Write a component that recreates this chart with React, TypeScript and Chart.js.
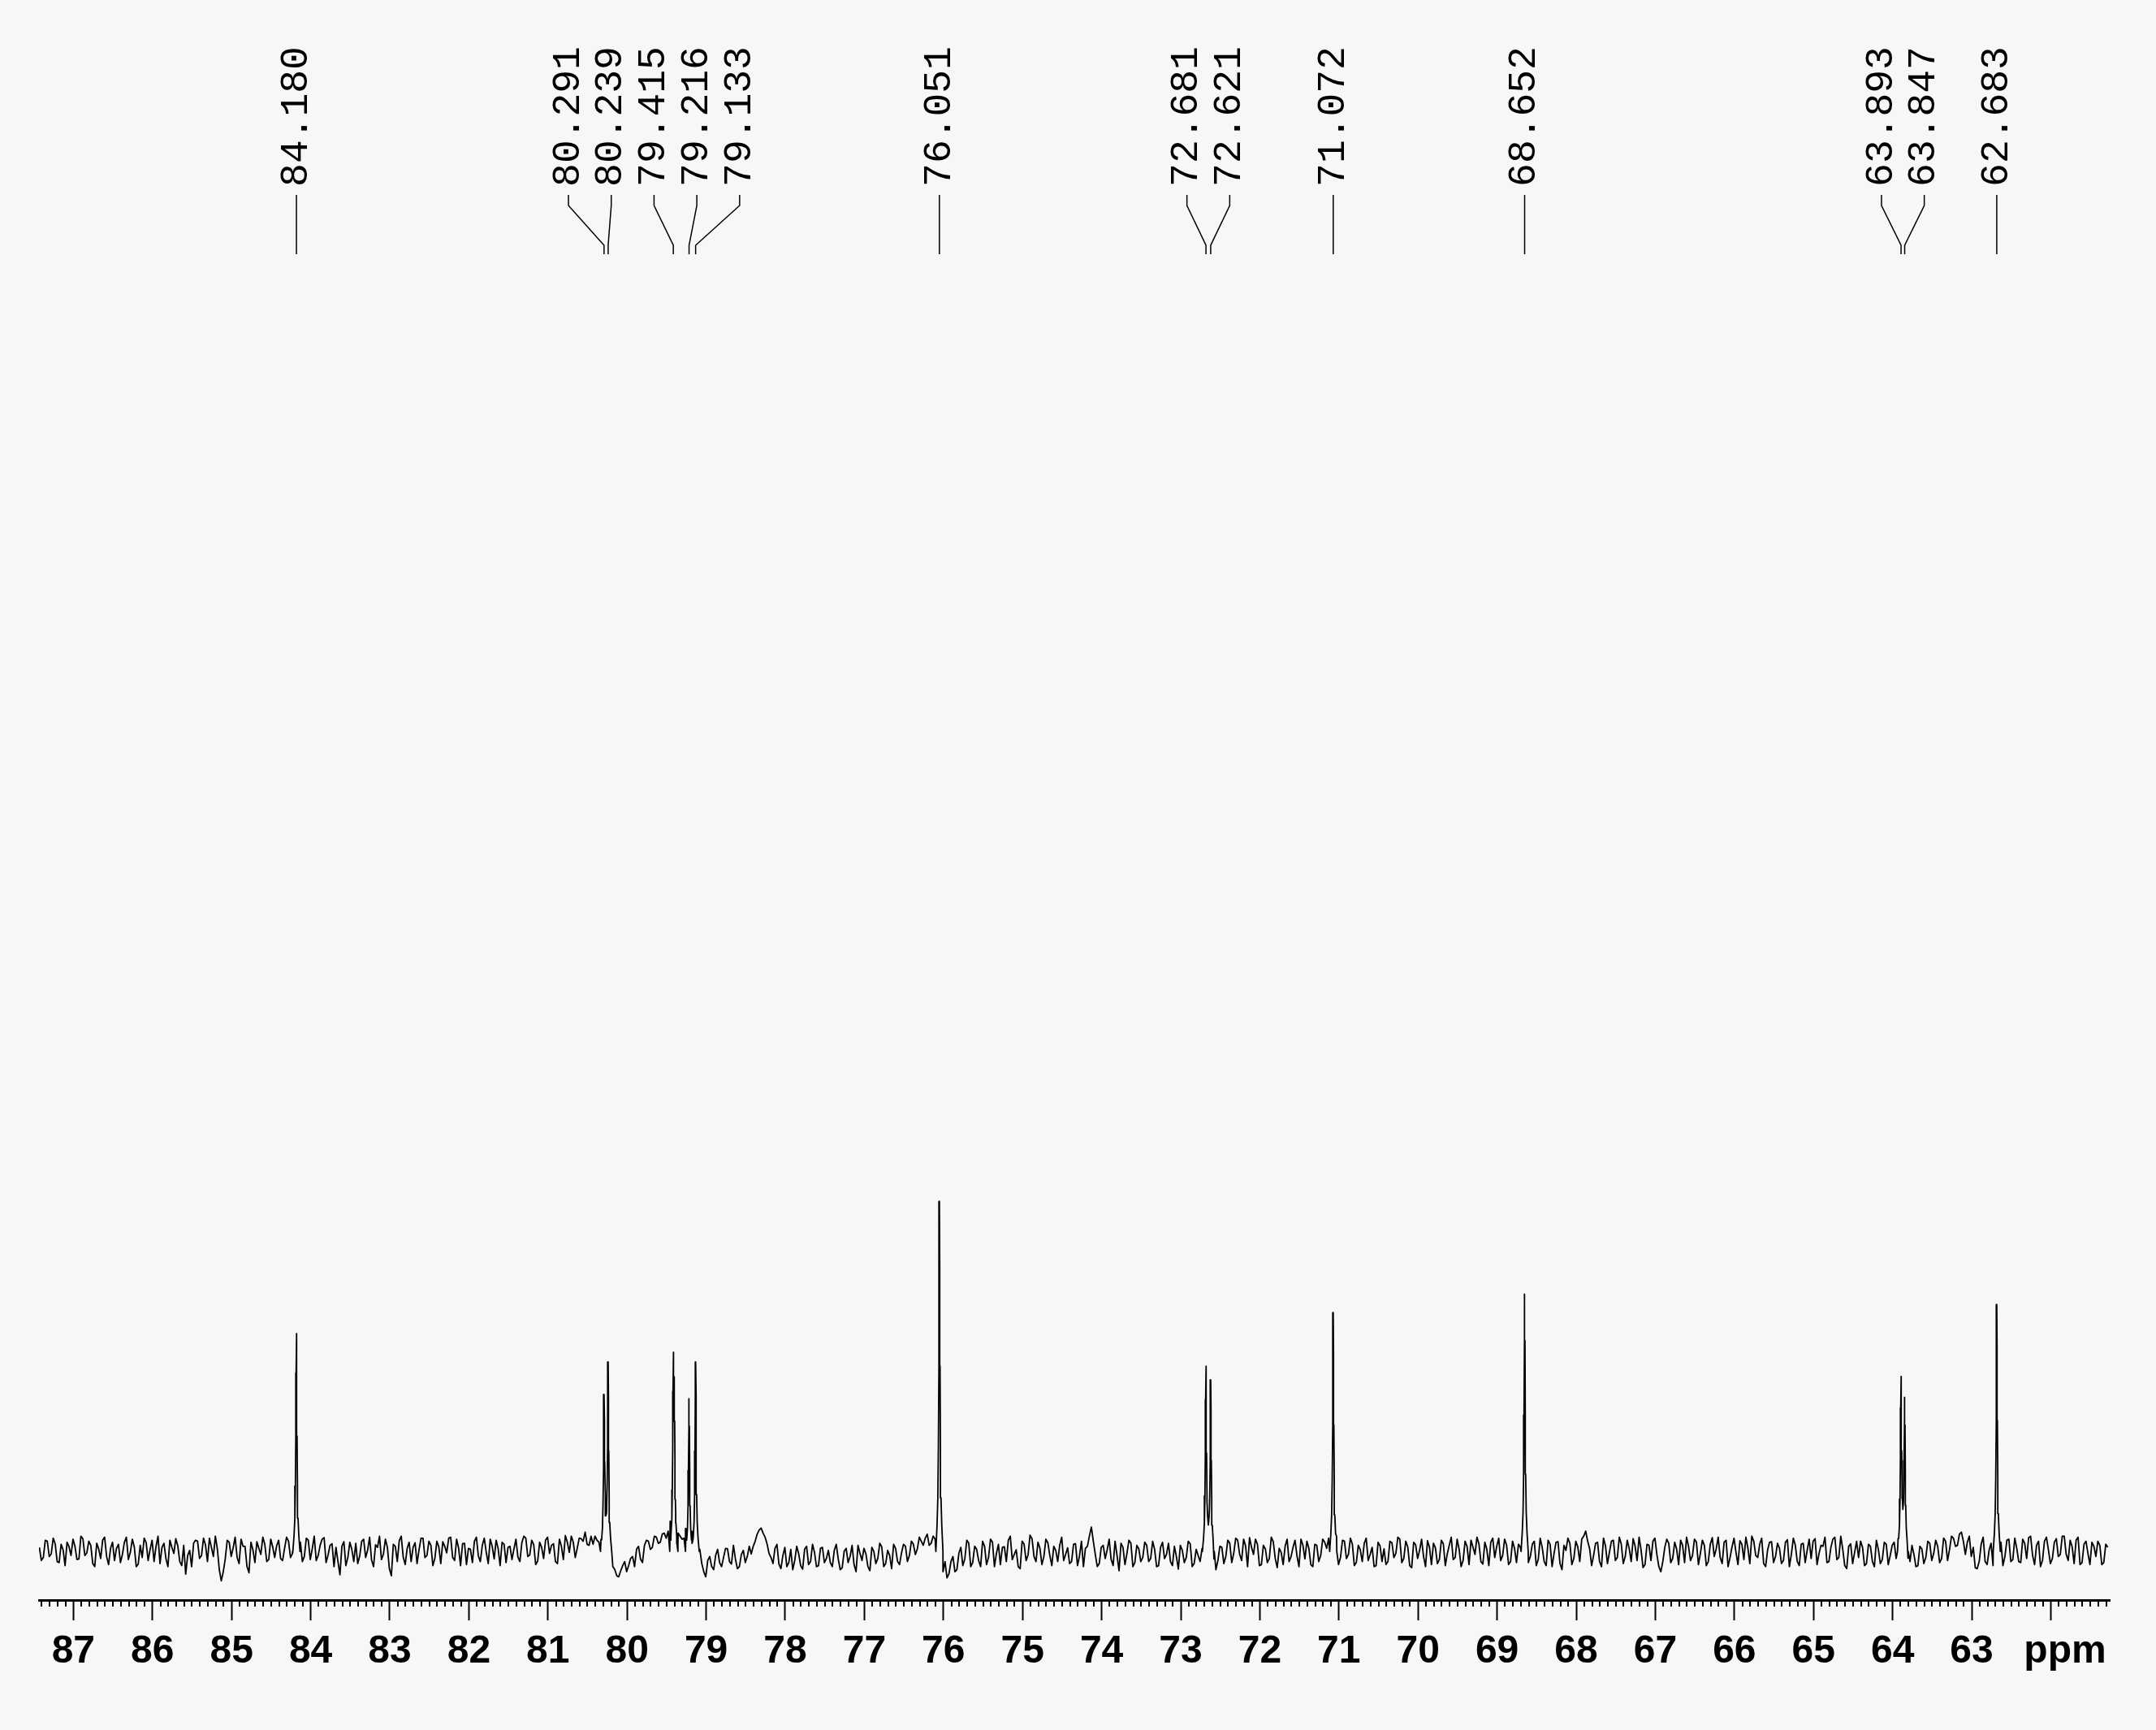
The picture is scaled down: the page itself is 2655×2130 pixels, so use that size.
import { useEffect, useRef } from 'react';
import { Chart, registerables } from 'chart.js';

Chart.register(...registerables);

// ---- axis range (ppm, high on the left) ----
const PPM_LEFT = 87.435;
const PPM_RIGHT = 61.255;
const AXIS_LABELS = [87, 86, 85, 84, 83, 82, 81, 80, 79, 78, 77, 76, 75, 74, 73, 72, 71, 70, 69, 68, 67, 66, 65, 64, 63];
const MINOR_STEP = 0.1;
const UNIT_LABEL = 'ppm';
const UNIT_LABEL_PPM = 61.82;

// ---- labelled peaks ----
const PEAK_PPM = [84.18, 80.291, 80.239, 79.415, 79.216, 79.133, 76.051, 72.681, 72.621, 71.072, 68.652, 63.893, 63.847, 62.683];
const PEAK_HEIGHT = [622, 448, 541, 470, 436, 541, 1000, 529, 490, 682, 735, 500, 440, 705];

// ---- unlabelled shoulder line ----
const SHOULDER_PPM = [79.402];
const SHOULDER_HEIGHT = [330];

// ---- line shape (offset ppm -> fraction of height) ----
const LINE_OFFSETS = [0, 0.004, 0.008, 0.013, 0.02, 0.03, 0.045];
const LINE_FRACTIONS = [1, 0.82, 0.53, 0.3, 0.153, 0.074, 0.034];

// ---- baseline noise (noise counts; NOISE_UNIT intensity units per count) ----
const NOISE_UNIT = 1.45;
const NOISE_START_PPM = 87.43;
const NOISE_STEP_PPM = 0.05;
const NOISE = [
  8, -12, 20, -5, 15, -22, 3, 18, -8, 10, -15, 25, -3, 12, -30, 5, 22, -10, 6, -18,
  14, -6, 28, -2, 9, -25, -12, 17, 4, -20, 30, 8, -14, 22, -4, 11, -28, -45, 2, 16,
  20, -8, 13, 26, -10, 5, -58, -15, 18, 7, -12, 24, 10, -42, 3, 19, -6, 14, -16, 9,
  11, -14, 6, 20, -4, 0, 18, -10, 22, 5, -18, 12, 27, -7, 15, 8, -46, 19, -12, 4,
  16, -9, 24, 2, -17, 13, 30, -5, 8, -48, 10, 21, -11, 6, -20, 17, 3, 26, -8, 12,
  -14, 9, 19, -3, 28, -18, 7, 15, -26, 4, 20, -9, 12, -2, 24, -15, 6, 18, -22, 10,
  5, -11, 17, 26, -7, 13, -19, 8, 22, -4, 15, -24, 10, 31, -2, 18, 6, 25, 38, 12,
  14, 22, 8, 0, 0, -30, -48, -38, -20, -28, -10, 4, -15, 12, 20, 8, 28, 18, 36, 40,
  0, 0, 30, 26, 0, 22, 0, 4, -40, -18, -30, -8, -22, -12, 5, -25, -15, -30, 2, -10,
  -5, 20, 42, 36, 15, -12, 6, -25, -8, -30, 4, -18, -5, -35, 10, -20, -2, -28, 8, -14,
  -22, 2, -15, -32, 6, -10, -26, 12, -18, -5, -38, 0, -14, 9, -24, -8, 14, -20, -3, 10,
  -8, 14, 5, 20, 26, 12, 30, 0, 0, -20, -44, -10, -36, 8, -15, 16, -22, 4, -30, 10,
  -12, 18, -4, -26, 9, 22, -16, 3, -34, 14, -7, 25, -20, 6, -10, 17, -28, 2, 12, -18,
  7, -20, 15, -9, -30, 10, 48, -6, -24, 12, 3, -16, 20, -38, 8, -4, 16, -22, 5, -12,
  12, -14, 4, -28, 18, -6, -20, 10, -35, 2, -12, 15, -24, -8, 6, 0, 0, -30, -18, 8,
  -10, 16, -4, 22, -18, 11, 27, -6, 14, -26, 5, -14, 19, -32, -2, 10, -20, 8, -9, 24,
  -15, 6, -30, 12, -8, 18, 26, 0, 10, -12, 20, -6, 14, -22, 3, 16, -18, 8, -28, 11,
  5, -20, 17, -4, 24, -14, 9, -32, 13, 2, -10, 21, -26, 7, -16, 15, -5, 28, -12, 4,
  -18, 10, 22, -6, 15, -25, 4, 18, -12, 26, -8, 12, -20, 6, 14, 0, 0, -10, 20, -16,
  8, -28, 14, -4, 19, -36, 2, 16, -14, 9, 24, 40, 5, -8, 18, -30, 11, -2, 22, -12,
  14, -10, 6, 25, -18, 3, -26, 12, 20, -6, -40, 8, 16, -14, 4, 22, -22, 10, -8, 18,
  -4, 12, -20, 27, 5, -12, 18, -30, 9, -2, 21, -16, 7, 30, -8, 14, -24, 3, 19, -10,
  6, -18, 23, -6, 12, -28, 16, 2, -14, 25, -4, 10, -22, 8, 28, -12, 4, -34, 15, -2,
  -12, 8, -24, 10, -30, 4, -16, 14, -8, 18, 6, 0, 0, -20, -6, -28, 5, -12, 16, -4,
  10, -14, 20, 4, 26, 12, 38, -6, 30, 8, -34, 14, -20, 2, -28, 0, 18, -10, 24, -16,
  6, -22, 16, 27, -8, 12, -30, 20, 3, -14, 25, -6, 30, -18, 9, 22, -26, 14, -4, 18,
  -10, 12, -22, 8,
];

// ---- baseline noise at the mid-points, one value every 0.05 ppm from 87.405 ppm ----
const NOISE_MID_START_PPM = 87.405;
const NOISE_MID = [
  -18, 22, -10, 26, -20, 14, -28, 9, 24, -16, 30, -8, 20, -24, 16, -14, 28, -26, 18, 6,
  -22, 18, -16, 24, -30, 12, 26, -18, 22, 10, -24, 16, -30, 8, 25, -20, 12, -8, -30, 22,
  -14, 26, -20, 8, 30, -36, -40, 22, -10, 28, -24, 10, -30, 18, -22, 6, 28, -20, 24, -12,
  22, -18, 28, -12, 0, 0, -20, 26, -16, 30, -8, 24, -22, 12, -30, -20, 10, -28, 18, -20,
  -24, 20, -12, 28, -30, 8, -16, 24, -34, 14, -20, 30, -26, 18, 8, -24, 26, -12, 20, -28,
  20, -24, 10, 26, -12, 24, -28, 16, 6, -22, 28, -20, 26, -24, 10, 22, -28, 14, 8, -16,
  24, -20, 30, -10, 22, -26, 18, -14, 28, 12, -20, 24, -16, 18, 30, -12, 26, 20, 14, 30,
  30, 18, 0, 0, 0, -36, -50, -28, -40, -14, -30, 10, -22, 22, 4, 30, 16, 34, 26, 44,
  0, 36, 24, 30, 0, 0, 0, -24, -50, -10, -36, 4, -30, 6, -20, 12, -34, -6, -22, 10,
  10, 34, 46, 28, -4, -24, 14, -34, 8, -22, -36, 10, -28, 4, -26, 14, -30, 6, -22, 2,
  -30, 14, -36, 0, -22, 12, -40, -4, 6, -30, 8, -24, 16, -30, 2, -34, 6, -26, 14, -20,
  20, -6, 28, 12, 34, 16, 24, 0, -40, -52, -20, -40, -4, -28, 22, -30, 10, -18, 20, -26,
  24, -30, 14, 8, -20, 30, -6, -30, 20, -18, 32, -10, 18, -26, 24, -8, 10, -20, 28, -6,
  -24, 14, -28, 20, 6, 30, 20, -30, 8, -14, 24, -28, -8, 16, -26, 22, -30, 12, -20, 18,
  -20, 20, -30, 8, -14, 16, -28, -10, 12, -22, 20, -30, 4, -20, 0, 0, 0, -36, 10, -24,
  22, -22, 26, -6, 24, -30, 8, 24, -28, 12, -22, 28, -14, 6, -26, 24, -10, 22, -30, 12,
  20, -26, 14, -20, 24, 6, 0, 0, -26, 22, -14, 26, -28, 12, -20, 26, -6, -30, 18, -20,
  -26, 20, -12, 28, -22, 20, -28, 18, -14, 24, -30, 8, 16, -24, 22, -28, 12, -16, 24, -30,
  20, -26, 8, 28, -20, 18, -28, 26, 10, -18, 24, -26, 20, -22, 8, 0, -22, 14, -28, 26,
  -20, 22, -30, 18, -24, 12, 26, -26, 20, -20, 30, 20, -28, 16, -20, 26, -24, 20, -18, 28,
  -24, 22, -20, 10, 28, -32, 14, -18, 26, -30, -20, 24, -22, 18, -26, 12, 28, -18, 24, -26,
  22, -28, 14, -10, 28, -24, 22, -12, 26, -26, 14, 28, -24, 20, -12, 26, -30, 18, -22, 16,
  -24, 18, -30, 26, -20, 14, -22, 24, 20, -26, 12, 28, -20, 24, -16, 30, -28, 10, -24, 20,
  20, -28, 14, -20, 22, -24, 18, -26, 12, -14, 0, 0, -26, 12, -30, 10, -24, 20, -18, 22,
  -22, 26, -18, 30, 10, 34, 20, 18, -10, -32, -20, 28, -26, 16, 0, 0, -28, 22, -20, 26,
  -20, 24, -14, 30, -26, 20, -18, 28, -24, 18, -10, 30, -6, 22, -24, 28, -22, 20, -26, 10,
  20, -26, 14,
];

const Y_MIN = -139;
const Y_MAX = 3666;

const BG = '#f7f7f7';
const INK = '#000000';
const TICK_LEN = 25;
const TICK_PAD = 10;
const TICK_FONT_SIZE = 48;

function shape(d: number): number {
  const a = Math.abs(d);
  const last = LINE_OFFSETS.length - 1;
  if (a > LINE_OFFSETS[last]) return 0;
  for (let k = 0; k < last; k++) {
    const o0 = LINE_OFFSETS[k];
    const o1 = LINE_OFFSETS[k + 1];
    if (a >= o0 && a <= o1) {
      const t = (a - o0) / (o1 - o0);
      return LINE_FRACTIONS[k] + t * (LINE_FRACTIONS[k + 1] - LINE_FRACTIONS[k]);
    }
  }
  return 0;
}

function buildTrace() {
  const lines: [number, number][] = PEAK_PPM.map((p, i) => [p, PEAK_HEIGHT[i]] as [number, number]).concat(
    SHOULDER_PPM.map((p, i) => [p, SHOULDER_HEIGHT[i]] as [number, number])
  );
  const signal = (x: number) => lines.reduce((s, [p, h]) => s + h * shape(x - p), 0);
  const pts: { x: number; y: number }[] = [];
  const addNoise = (arr: number[], start: number) => {
    arr.forEach((n, i) => {
      const x = +(start - i * NOISE_STEP_PPM).toFixed(3);
      if (lines.some(([p]) => Math.abs(x - p) < 0.035)) return;
      pts.push({ x, y: n * NOISE_UNIT + signal(x) });
    });
  };
  addNoise(NOISE, NOISE_START_PPM);
  addNoise(NOISE_MID, NOISE_MID_START_PPM);
  lines.forEach(([p]) => {
    LINE_OFFSETS.forEach((o) => {
      const signs = o === 0 ? [0] : [-1, 1];
      signs.forEach((s) => {
        const x = p + s * o;
        pts.push({ x, y: signal(x) });
      });
    });
  });
  pts.sort((a, b) => a.x - b.x);
  return pts;
}

function spread(xs: number[], gap: number): number[] {
  let groups = xs.map((x, i) => ({ start: i, end: i, center: x }));
  let changed = true;
  while (changed) {
    changed = false;
    for (let g = 0; g < groups.length - 1; g++) {
      const a = groups[g];
      const b = groups[g + 1];
      const aLast = a.center + ((a.end - a.start) * gap) / 2;
      const bFirst = b.center - ((b.end - b.start) * gap) / 2;
      if (bFirst - aLast < gap) {
        let sum = 0;
        for (let k = a.start; k <= b.end; k++) sum += xs[k];
        groups.splice(g, 2, { start: a.start, end: b.end, center: sum / (b.end - a.start + 1) });
        changed = true;
        break;
      }
    }
  }
  const out: number[] = new Array(xs.length);
  groups.forEach((g) => {
    const n = g.end - g.start + 1;
    for (let k = g.start; k <= g.end; k++) out[k] = g.center + (k - g.start - (n - 1) / 2) * gap;
  });
  return out;
}

const backgroundPlugin = {
  id: 'bgFill',
  beforeDraw(chart: any) {
    const c = chart.ctx;
    c.save();
    c.fillStyle = BG;
    c.fillRect(0, 0, chart.width, chart.height);
    c.restore();
  },
};

const decorPlugin = {
  id: 'nmrDecor',
  afterDraw(chart: any) {
    const c = chart.ctx;
    const xs = chart.scales.x;
    const top = xs.top;
    c.save();
    // minor ticks
    c.strokeStyle = INK;
    c.lineWidth = 2;
    c.beginPath();
    const k0 = Math.ceil(PPM_RIGHT / MINOR_STEP);
    const k1 = Math.floor(PPM_LEFT / MINOR_STEP);
    for (let k = k0; k <= k1; k++) {
      if (k % 10 === 0) continue;
      const px = Math.round(xs.getPixelForValue(k * MINOR_STEP));
      c.moveTo(px, top);
      c.lineTo(px, top + 8);
    }
    c.stroke();

    // unit label
    c.fillStyle = INK;
    c.font = `bold ${TICK_FONT_SIZE}px "Liberation Sans", Arial, sans-serif`;
    c.textAlign = 'center';
    c.textBaseline = 'middle';
    c.fillText(UNIT_LABEL, xs.getPixelForValue(UNIT_LABEL_PPM), top + TICK_LEN + TICK_PAD + TICK_FONT_SIZE * 0.6);

    // peak labels
    const order = PEAK_PPM.map((p, i) => i).sort((a, b) => xs.getPixelForValue(PEAK_PPM[a]) - xs.getPixelForValue(PEAK_PPM[b]));
    const peakX = order.map((i) => xs.getPixelForValue(PEAK_PPM[i]));
    const labelX = spread(peakX, 52.7);
    c.font = '48px "Liberation Mono", "Courier New", monospace';
    c.lineWidth = 1.5;
    c.beginPath();
    order.forEach((i, j) => {
      const lx = labelX[j];
      const px = peakX[j];
      c.moveTo(lx, 240);
      c.lineTo(lx, 253);
      c.lineTo(px, 302);
      c.lineTo(px, 313);
    });
    c.stroke();
    order.forEach((i, j) => {
      c.save();
      c.translate(labelX[j], 143.5);
      c.rotate(-Math.PI / 2);
      c.textAlign = 'center';
      c.textBaseline = 'middle';
      c.fillText(PEAK_PPM[i].toFixed(3), 0, 0);
      c.restore();
    });
    c.restore();
  },
};

export default function App() {
  const ref = useRef<HTMLCanvasElement | null>(null);
  useEffect(() => {
    if (!ref.current) return;
    const chart = new Chart(ref.current, {
      type: 'line',
      data: {
        datasets: [
          {
            data: buildTrace(),
            borderColor: INK,
            borderWidth: 1.8,
            pointRadius: 0,
            pointHoverRadius: 0,
            tension: 0,
            fill: false,
            borderJoinStyle: 'round',
          },
        ],
      },
      options: {
        animation: false,
        responsive: false,
        devicePixelRatio: 1,
        events: [],
        layout: { padding: { left: 48, right: 57, top: 330, bottom: 57.4 } },
        plugins: { legend: { display: false }, tooltip: { enabled: false }, title: { display: false } },
        scales: {
          x: {
            type: 'linear',
            reverse: true,
            min: PPM_RIGHT,
            max: PPM_LEFT,
            position: 'bottom',
            border: { display: true, color: INK, width: 3 },
            grid: { display: true, drawOnChartArea: false, drawTicks: true, tickLength: TICK_LEN, tickWidth: 2, tickColor: INK },
            ticks: {
              stepSize: 1,
              includeBounds: false,
              autoSkip: false,
              maxRotation: 0,
              minRotation: 0,
              padding: TICK_PAD,
              color: INK,
              font: { family: '"Liberation Sans", Arial, sans-serif', size: TICK_FONT_SIZE, weight: 'bold' },
              callback: (v: any) => {
                const r = Math.round(Number(v));
                return Math.abs(Number(v) - r) < 1e-6 && AXIS_LABELS.includes(r) ? String(r) : '';
              },
            },
          },
          y: { display: false, min: Y_MIN, max: Y_MAX },
        },
      } as any,
      plugins: [backgroundPlugin, decorPlugin],
    });
    return () => chart.destroy();
  }, []);
  return (
    <div style={{ position: 'absolute', left: 0, top: 0, width: 2655, height: 2130, background: BG }}>
      <canvas ref={ref} width={2655} height={2130} style={{ display: 'block', width: 2655, height: 2130 }} />
    </div>
  );
}
